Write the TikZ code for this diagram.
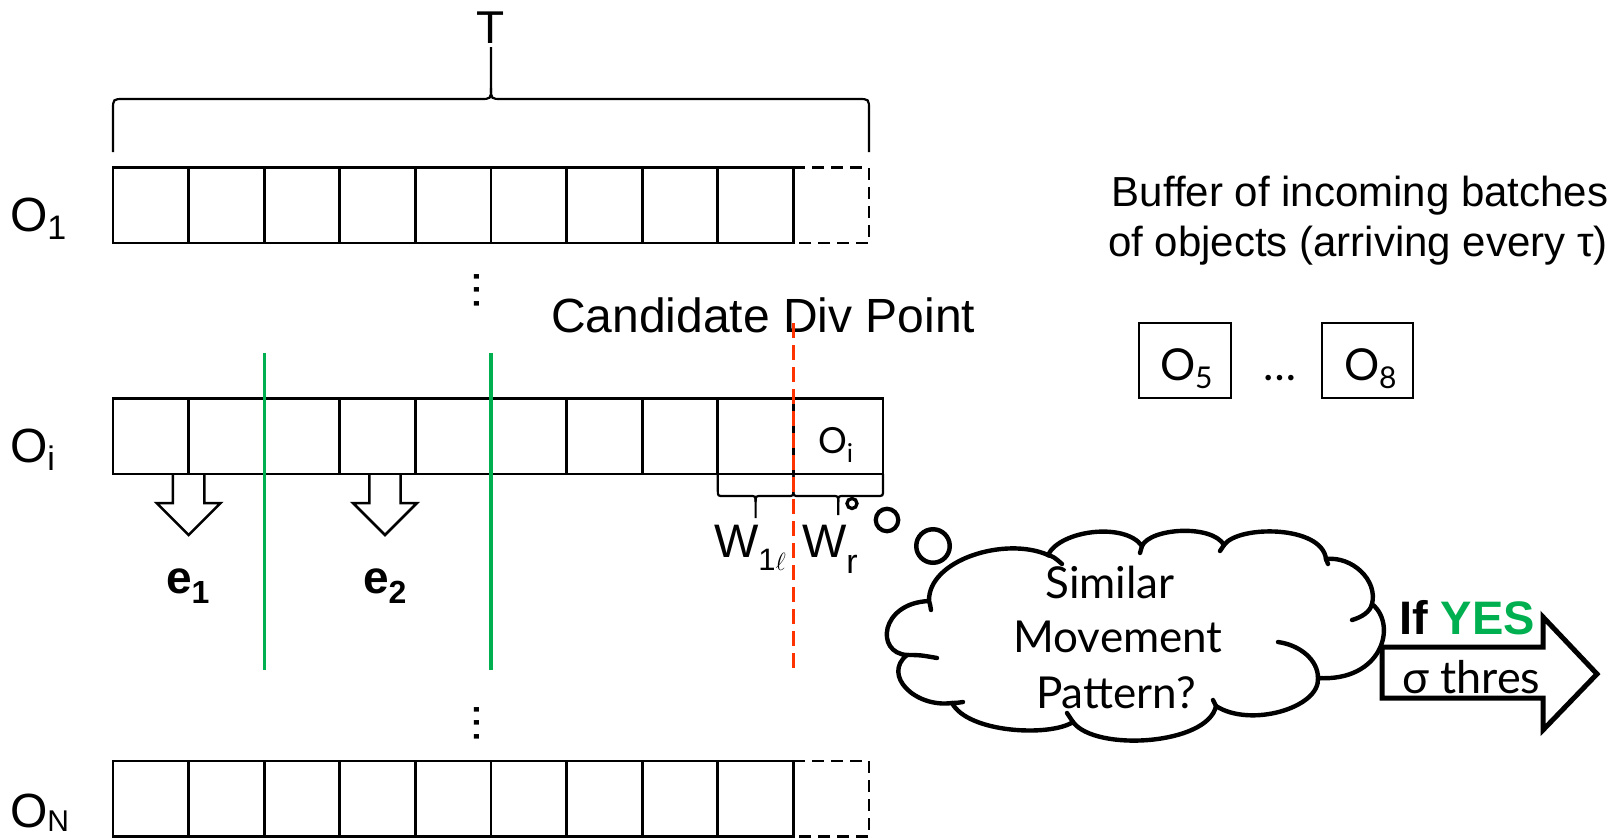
\documentclass[tikz,border=0pt]{standalone}
\usepackage{fontspec}
\setmainfont{Liberation Sans}
\newfontfamily\gillfont{Lato}
\usetikzlibrary{calc}
\definecolor{divgreen}{RGB}{0,176,80}
\definecolor{divred}{RGB}{255,51,0}
\newcommand\fs[1]{\fontsize{#1pt}{#1pt}\selectfont}
\newcommand\lowered[3]{\raisebox{-#1pt}{\fs{#2}#3}}

\begin{document}
\begin{tikzpicture}[x=1pt,y=1pt,
  every node/.style={inner sep=0pt, outer sep=0pt},
  cell/.style={draw, line width=2.7pt, minimum width=75.6pt, minimum height=75.5pt},
  ghostedge/.style={line width=2.7pt, dash pattern=on 12pt off 7pt},
  sepline/.style={draw=divgreen, line width=3.2pt},
  divline/.style={draw=divred, line width=3.8pt, dash pattern=on 15pt off 7pt},
  brc/.style={line width=2.2pt},
  downarrow/.style={line width=2.5pt, line join=miter},
  puffline/.style={line width=4.4pt, line cap=round},
  bubble/.style={circle, draw},
  fatarrow/.style={line width=5pt, line join=miter, fill=white},
  rowlbl/.style={font=\fs{48}, anchor=base west},
  gill/.style={font=\gillfont\fs{#1}},
]
\fill[white] (0,0) rectangle (1619,-839);
\useasboundingbox (0,0) rectangle (1619,-839);

% ---- trajectory rows --------------------------------------------------
\foreach \k in {0,...,8} {
  \node[cell] (a\k) at ({113+75.6*(\k+0.5)},-205.25) {};
  \node[cell] (m\k) at ({113+75.6*(\k+0.5)},-436.25) {};
  \node[cell] (z\k) at ({113+75.6*(\k+0.5)},-798.75) {};
}
\node[cell, minimum width=89.6pt] (m9) at (838.2,-436.25) {};
\draw[ghostedge] (a8.north east) -- ++(75.6,0) -- ++(0,-75.5) -- ++(-75.6,0);
\draw[ghostedge] (z8.north east) -- ++(75.6,0) -- ++(0,-75.5) -- ++(-75.6,0);

% row labels
\node[rowlbl] (l1) at (10,-231) {O\lowered{8}{34}{1}};
\node[rowlbl] (li) at (10,-462) {O\lowered{8}{34}{i}};
\node[rowlbl] (ln) at (10,-827) {O\lowered{4}{30}{N}};

% vertical ellipses between rows
\node[font=\fs{48}, rotate=90] (vd1) at (477,-290) {...};
\node[font=\fs{48}, rotate=90] (vd2) at (477,-723) {...};

% ---- brace over the time window T ------------------------------------
\node[font=\fs{46}, anchor=base] (tl) at (491,-43) {T};
\draw[brc] (113,-152) -- (113,-110) .. controls (113,-99) .. (124,-99) -- (480,-99)
  .. controls (491,-99) .. (491,-88) -- (491,-47);
\draw[brc] (491,-88) .. controls (491,-99) .. (502,-99) -- (858,-99)
  .. controls (869,-99) .. (869,-110) -- (869,-152);

% ---- episode arrows ---------------------------------------------------
\draw[downarrow] (172.9,-474) -- (172.9,-503) -- (156.6,-503) -- (188.6,-535)
  -- (220.6,-503) -- (204.3,-503) -- (204.3,-474);
\draw[downarrow] (369.3,-474) -- (369.3,-503) -- (353,-503) -- (385,-535)
  -- (417,-503) -- (400.7,-503) -- (400.7,-474);
\node[font=\bfseries\fs{46}, anchor=base west] (e1) at (166,-593) {e\lowered{10}{32}{1}};
\node[font=\bfseries\fs{46}, anchor=base west] (e2) at (363,-593) {e\lowered{10}{32}{2}};

% episode separators
\draw[sepline] (264.2,-353) -- (264.2,-670);
\draw[sepline] (491,-353) -- (491,-670);

% ---- candidate division point ----------------------------------------
\node[font=\fs{48}, anchor=base west] (cand) at (551,-332) {Candidate Div Point};
\node[gill=36, anchor=base west] (oi) at (818,-453) {O\lowered{9}{26}{i}};
\draw[brc] (717.8,-474) -- (717.8,-490) .. controls (717.8,-496) .. (723.8,-496) -- (749.6,-496)
  .. controls (755.6,-496) .. (755.6,-502) -- (755.6,-518);
\draw[brc] (755.6,-502) .. controls (755.6,-496) .. (761.6,-496) -- (787.4,-496)
  .. controls (793.4,-496) .. (793.4,-490) -- (793.4,-474);
\draw[brc] (793.4,-474) -- (793.4,-490) .. controls (793.4,-496) .. (799.4,-496) -- (832.2,-496)
  .. controls (838.2,-496) .. (838.2,-502) -- (838.2,-515);
\draw[brc] (838.2,-502) .. controls (838.2,-496) .. (844.2,-496) -- (877,-496)
  .. controls (883,-496) .. (883,-490) -- (883,-474);
\node[font=\fs{47}, anchor=base west] (w1) at (714,-557) {W\lowered{13}{31}{1$\ell$}};
\node[font=\fs{47}, anchor=base west] (wr) at (802,-557) {W\lowered{16}{34}{r}};
\draw[divline] (793.4,-323) -- (793.4,-671);

% ---- incoming buffer --------------------------------------------------
\node[font=\fs{42}, anchor=base] (buf1) at (1360,-206) {Buffer of incoming batches};
\node[font=\fs{42}, anchor=base] (buf2) at (1358,-256) {of objects (arriving every τ)};
\node[draw, line width=2.5pt, minimum width=92pt, minimum height=75pt] (b5) at (1185,-360.5) {};
\node[draw, line width=2.5pt, minimum width=91pt, minimum height=75pt] (b8) at (1367.5,-360.5) {};
\node[gill=44, anchor=base west] (t5) at (1160,-380) {O\lowered{8}{30}{5}};
\node[gill=44, anchor=base west] (t8) at (1344,-380) {O\lowered{8}{30}{8}};
\node[gill=44, anchor=base] (bdots) at (1280,-380) {…};

% ---- thought bubble -----------------------------------------------------
\node[bubble, line width=3.3pt, minimum size=10pt] (tb1) at (852,-503.5) {};
\node[bubble, line width=4.2pt, minimum size=22.5pt] (tb2) at (887,-520) {};
\node[bubble, line width=4.5pt, minimum size=33.5pt] (tb3) at (933,-546) {};

\draw[puffline, fill=white]
  (929,-601) .. controls (928,-560) and (1005,-536) .. (1048,-555)
  .. controls (1060,-530) and (1125,-522) .. (1142,-546)
  .. controls (1150,-528) and (1212,-524) .. (1224,-545)
  .. controls (1238,-525) and (1322,-525) .. (1326,-559)
  .. controls (1352,-556) and (1378,-580) .. (1372,-604)
  .. controls (1398,-625) and (1382,-682) .. (1318,-678)
  .. controls (1320,-708) and (1250,-728) .. (1216,-706)
  .. controls (1208,-745) and (1095,-752) .. (1073,-722)
  .. controls (1050,-737) and (968,-733) .. (952,-703)
  .. controls (915,-708) and (882,-675) .. (907,-655)
  .. controls (875,-653) and (880,-603) .. (929,-601) -- cycle;
% inner puff strokes
\draw[puffline] (929,-601) .. controls (930,-604) .. (931,-610);
\draw[puffline] (1048,-555) .. controls (1054,-557) .. (1062,-564);
\draw[puffline] (1142,-546) .. controls (1141,-549) .. (1140,-553);
\draw[puffline] (1224,-545) .. controls (1222,-548) .. (1220,-551);
\draw[puffline] (1326,-559) .. controls (1327,-561) .. (1328,-564);
\draw[puffline] (1372,-604) .. controls (1370,-612) and (1362,-617) .. (1352,-620);
\draw[puffline] (1318,-678) .. controls (1318,-660) and (1300,-645) .. (1278,-642);
\draw[puffline] (1216,-706) .. controls (1214,-703) .. (1213,-700);
\draw[puffline] (1073,-722) .. controls (1070,-718) .. (1067,-713);
\draw[puffline] (952,-703) .. controls (956,-703) .. (963,-702);
\draw[puffline] (907,-655) .. controls (920,-655) .. (937,-658);

\node[gill=44, anchor=base] (q1) at (1110,-598) {Similar};
\node[gill=44, anchor=base] (q2) at (1118,-652) {Movement};
\node[gill=44, anchor=base] (q3) at (1116,-708) {Pattern?};

% ---- decision arrow -----------------------------------------------------
\draw[fatarrow] (1382,-647) -- (1543,-647) -- (1543,-617) -- (1597,-674)
  -- (1543,-730) -- (1543,-698) -- (1382,-698) -- cycle;
\node[font=\bfseries\fs{47}, anchor=base west] (ifyes) at (1399,-634) {If \textcolor{divgreen}{YES}};
\node[gill=45, anchor=base west] (sig) at (1402,-693) {σ thres};
\end{tikzpicture}
\end{document}
